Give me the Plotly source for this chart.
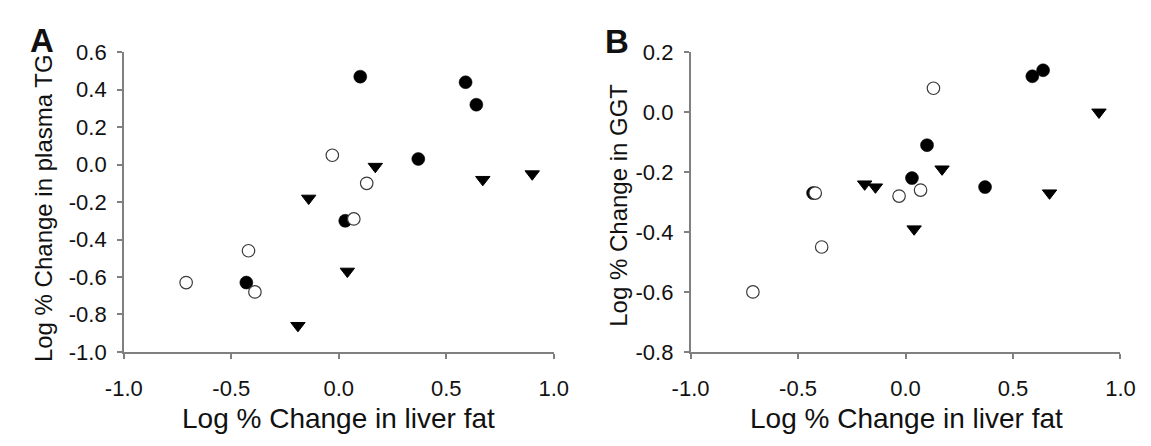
import plotly.graph_objects as go

# Data
filled_x = [-0.43, 0.03, 0.10, 0.37, 0.59, 0.64]
filled_tg = [-0.63, -0.30, 0.47, 0.03, 0.44, 0.32]
filled_ggt = [-0.27, -0.22, -0.11, -0.25, 0.12, 0.14]

open_x = [-0.71, -0.42, -0.39, -0.03, 0.07, 0.13]
open_tg = [-0.63, -0.46, -0.68, 0.05, -0.29, -0.10]
open_ggt = [-0.60, -0.27, -0.45, -0.28, -0.26, 0.08]

tri_x = [-0.19, -0.14, 0.04, 0.17, 0.67, 0.90]
tri_tg = [-0.86, -0.18, -0.57, -0.01, -0.08, -0.05]
tri_ggt = [-0.24, -0.25, -0.39, -0.19, -0.27, 0.00]

x_ticks = [-1.0, -0.5, 0.0, 0.5, 1.0]
x_ticktext = ["-1.0", "-0.5", "0.0", "0.5", "1.0"]
tg_ticks = [0.6, 0.4, 0.2, 0.0, -0.2, -0.4, -0.6, -0.8, -1.0]
tg_ticktext = ["0.6", "0.4", "0.2", "0.0", "-0.2", "-0.4", "-0.6", "-0.8", "-1.0"]
ggt_ticks = [0.2, 0.0, -0.2, -0.4, -0.6, -0.8]
ggt_ticktext = ["0.2", "0.0", "-0.2", "-0.4", "-0.6", "-0.8"]

x_title = "Log % Change in liver fat"
tg_title = "Log % Change in plasma TG"
ggt_title = "Log % Change in GGT"

FONT = "Liberation Sans, Arial, sans-serif"
W, H = 1151, 446

fig = go.Figure()

def add_panel(xa, ya, fy, oy, ty):
    fig.add_trace(go.Scatter(x=filled_x, y=fy, mode="markers", xaxis=xa, yaxis=ya,
                             marker=dict(symbol="circle", size=13, color="black",
                                         line=dict(color="black", width=0.5)),
                             showlegend=False, hoverinfo="x+y"))
    fig.add_trace(go.Scatter(x=open_x, y=oy, mode="markers", xaxis=xa, yaxis=ya,
                             marker=dict(symbol="circle", size=12.5, color="white",
                                         line=dict(color="#3a3a3a", width=1.2)),
                             showlegend=False, hoverinfo="x+y"))
    fig.add_trace(go.Scatter(x=tri_x, y=ty, mode="markers", xaxis=xa, yaxis=ya,
                             marker=dict(symbol="triangle-down", size=12.5, color="black",
                                         line=dict(color="black", width=1)),
                             showlegend=False, hoverinfo="x+y"))

add_panel("x", "y", filled_tg, open_tg, tri_tg)
add_panel("x2", "y2", filled_ggt, open_ggt, tri_ggt)

ydom = [1 - 360 / H, 1 - 42.7 / H]

axis_common = dict(showgrid=False, zeroline=False, showline=True, linecolor="#808080",
                   linewidth=1.5, ticks="outside", ticklen=5, tickcolor="#808080",
                   tickwidth=1.5, tickfont=dict(family=FONT, size=22, color="#111111"),
                   tickmode="array", fixedrange=True)

fig.update_layout(
    width=W, height=H,
    margin=dict(l=0, r=0, t=0, b=0),
    paper_bgcolor="white", plot_bgcolor="white",
    xaxis=dict(domain=[108 / W, 551 / W], range=[-1.0, 1.0], tickvals=x_ticks,
               ticktext=x_ticktext, anchor="y", ticklabelstandoff=11, **axis_common),
    yaxis=dict(domain=ydom, range=[-1.0, 0.6], tickvals=tg_ticks, ticktext=tg_ticktext,
               anchor="x", ticklabelstandoff=6, **axis_common),
    xaxis2=dict(domain=[692 / W, 1135 / W], range=[-1.0, 1.0], tickvals=x_ticks,
                ticktext=x_ticktext, anchor="y2", ticklabelstandoff=11, **axis_common),
    yaxis2=dict(domain=ydom, range=[-0.8, 0.2], tickvals=ggt_ticks, ticktext=ggt_ticktext,
                anchor="x2", ticklabelstandoff=6, **axis_common),
)

def ann(text, x, y, size, angle=0, bold=False):
    fig.add_annotation(text=("<b>%s</b>" % text) if bold else text,
                       x=x / W, y=1 - y / H, xref="paper", yref="paper",
                       xanchor="center", yanchor="middle", showarrow=False,
                       textangle=angle,
                       font=dict(family=FONT, size=size, color="#111111"))

ann(x_title, 329.5, 431, 28)
ann(x_title, 914, 431, 28)
ann(tg_title, 26, 207.5, 24, angle=-90)
ann(ggt_title, 617.5, 205, 24, angle=-90)
ann("A", 24, 30.5, 33, bold=True)
ann("B", 616, 31, 33, bold=True)

fig.write_html("out.html", config={"displayModeBar": False},
               post_script="document.body.style.margin='0';document.body.style.overflow='hidden';")
